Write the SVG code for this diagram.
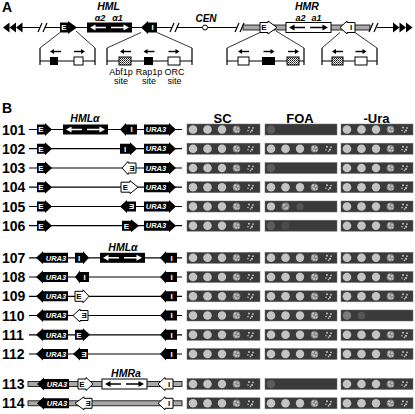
<svg xmlns="http://www.w3.org/2000/svg" width="415" height="414" viewBox="0 0 415 414">
<style>
.lab{font:bold 14px "Liberation Sans",Arial,sans-serif}
.hd{font:bold 13px "Liberation Sans",Arial,sans-serif;text-anchor:middle}
.loc{font:bold italic 10.5px "Liberation Sans",Arial,sans-serif;text-anchor:middle}
.sub{font:bold italic 9px "Liberation Sans",Arial,sans-serif;text-anchor:middle}
.site{font:9px "Liberation Sans",Arial,sans-serif;text-anchor:middle}
.el{font:bold 8px "Liberation Sans",Arial,sans-serif;text-anchor:middle}
.elw{fill:#fff}
.ura{font:bold italic 7.5px "Liberation Sans",Arial,sans-serif;text-anchor:middle;fill:#fff}
.ln{stroke:#000;stroke-width:1.2;fill:none}
.blk{fill:#000}
.wht{fill:#fff;stroke:#000;stroke-width:1}
.band{fill:#a8a8a8;stroke:#000;stroke-width:.8}
.cl{stroke:#000;stroke-width:.8;fill:none}
.strip{fill:#3a3a3a;stroke:#707070;stroke-width:.5}
.s{fill:#c4c4c4}
.sk{fill:#8a8a8a}
</style>
<defs>
<pattern id="hatch" width="2" height="2" patternUnits="userSpaceOnUse"><rect width="2" height="2" fill="#fff"/><rect width="1" height="1" fill="#000"/><rect x="1" y="1" width="1" height="1" fill="#555"/></pattern>
<g id="hml"><rect x="0" y="-5" width="45" height="10" fill="#000"/><path d="M8,0H19M24,0H37" stroke="#fff" stroke-width="1.5"/><path d="M3,0L8.5,-3V3Z M42,0L36.5,-3V3Z" fill="#fff"/></g>
<g id="hmr"><rect x="0" y="-5" width="45" height="10" fill="#fff" stroke="#000" stroke-width="1"/><path d="M8,0H19M24,0H37" stroke="#000" stroke-width="1.5"/><path d="M3,0L8.5,-3V3Z M42,0L36.5,-3V3Z" fill="#000"/></g>
<g id="aL"><path d="M3,0H11" stroke="#000" stroke-width="1.4"/><path d="M0,0L4,-2.6V2.6Z" fill="#000"/></g>
<g id="aR"><path d="M0,0H8" stroke="#000" stroke-width="1.4"/><path d="M11,0L7,-2.6V2.6Z" fill="#000"/></g>
<g id="full"><circle class="s" cx="6" r="4.3"/><circle class="s" cx="20.5" r="4.3"/><circle class="s" cx="35" r="4.2"/><circle class="sk" cx="49.5" r="3.8"/><circle class="s" cx="48" cy="-1.8" r="1.1"/><circle class="s" cx="51" cy="-1" r="1"/><circle class="s" cx="49" cy="1.8" r="1.1"/><circle class="s" cx="51.5" cy="2" r=".9"/><circle class="s" cx="47.6" cy=".4" r=".8"/><circle class="s" cx="62" cy="-2" r="1"/><circle class="s" cx="65" cy="1" r="1.1"/><circle class="s" cx="63.5" cy="2.6" r=".8"/><circle class="s" cx="66" cy="-1.6" r=".9"/><circle class="s" cx="61" cy="1" r=".8"/></g>
<g id="f1"><circle cx="6" r="4.2" fill="#5c5c5c"/></g>
<g id="f2"><circle cx="6" r="4.2" fill="#5c5c5c"/><circle cx="20.5" r="4" fill="#4c4c4c"/></g>
<g id="p105"><circle class="s" cx="6" r="4.1"/><circle class="sk" cx="20.5" r="4"/><circle class="s" cx="19" cy="-1.5" r="1"/><circle class="s" cx="22" cy="1.5" r="1"/><circle class="s" cx="20" cy="2" r=".8"/><circle cx="35" r="3.6" fill="#555"/></g>
<g id="p110"><circle cx="6" r="4.2" fill="#7c7c7c"/><circle cx="20.5" r="3.8" fill="#555"/></g>
</defs>

<text class="lab" x="2" y="12">A</text>
<text class="lab" x="2" y="113">B</text>

<g id="chromosome" transform="translate(0,27.5)">
<path class="blk" d="M3,0L9.5,-5V5Z M9.5,0L16,-5V5Z M16,0L22.5,-5V5Z"/>
<path class="ln" d="M22,0H40 M45,0H172 M177,0H202.5 M207.5,0H237 M377,0H393"/>
<path class="ln" d="M38,4.5L42,-4.5 M43,4.5L47,-4.5 M170,4.5L174,-4.5 M175,4.5L179,-4.5 M235,4.5L239,-4.5 M240,4.5L244,-4.5"/>
<rect class="band" x="243" y="-2.5" width="127" height="5"/>
<path class="ln" d="M369,4.5L373,-4.5 M374,4.5L378,-4.5"/>
<path class="blk" d="M393,-5L399.5,0L393,5Z M399.5,-5L406,0L399.5,5Z M406,-5L412.5,0L406,5Z"/>
<circle cx="205" cy="0" r="2.5" fill="#fff" stroke="#000" stroke-width="1"/>
<text class="sub" x="206" y="-5.5" style="font-size:10px">CEN</text>
<g id="HML-E"><path class="blk" d="M60,-5H68V-6.5L77,0L68,6.5V5H60Z"/><text class="el elw" x="64" y="2.9">E</text></g>
<g id="HML"><use href="#hml" x="87"/><text class="loc" x="108.5" y="-18">HML</text><text class="sub" x="100" y="-7">α2</text><text class="sub" x="117.5" y="-7">α1</text></g>
<g id="HML-I"><path class="blk" d="M141,0L148,-6.5V-5H157V5H148V6.5Z"/><text class="el elw" x="152.5" y="2.9">I</text></g>
<g id="HMR-E"><path class="wht" d="M260,-5H268V-6.5L277,0L268,6.5V5H260Z"/><text class="el" x="264" y="2.9">E</text></g>
<g id="HMR"><use href="#hmr" x="286"/><text class="loc" x="307" y="-18">HMR</text><text class="sub" x="300.5" y="-7">a2</text><text class="sub" x="316.5" y="-7">a1</text></g>
<g id="HMR-I"><path class="wht" d="M340,0L347,-6.5V-5H355V5H347V6.5Z"/><text class="el" x="351" y="2.9">I</text></g>
</g>

<g id="connectors">
<path class="cl" d="M60,32.5L40,48 M76,31L95,48 M141,32.5L107,48 M157,32.5L192,48 M260,32.5L227,48 M276,31L304,48 M340,32.5L322,48 M355,32.5L377,48"/>
<path class="ln" d="M40,48V65 M95,48V65 M40,61H95 M107,48V65 M192,48V65 M107,61H192 M227,48V65 M304,48V65 M227,61H304 M322,48V65 M377,48V65 M322,61H377"/>
</g>

<g id="HML-E-detail">
<rect x="50" y="57" width="8" height="8" fill="#000"/><rect class="wht" x="74" y="57" width="9" height="8"/>
<use href="#aL" x="50" y="51.5"/><use href="#aR" x="74" y="51.5"/>
</g>
<g id="HML-I-detail">
<rect x="119" y="57" width="12" height="8" fill="url(#hatch)" stroke="#000" stroke-width="1"/><rect x="144" y="57" width="9" height="8" fill="#000"/><rect class="wht" x="168" y="57" width="12" height="8"/>
<use href="#aL" x="120" y="51.5"/><use href="#aL" x="143.5" y="51.5"/><use href="#aR" x="168.5" y="51.5"/>
<text class="site" x="121" y="75">Abf1p</text><text class="site" x="121" y="84">site</text>
<text class="site" x="149" y="75">Rap1p</text><text class="site" x="149" y="84">site</text>
<text class="site" x="174.5" y="75">ORC</text><text class="site" x="174.5" y="84">site</text>
</g>
<g id="HMR-E-detail">
<rect class="wht" x="238" y="57" width="11" height="8"/><rect x="262" y="57" width="13" height="8" fill="#000"/><rect x="287" y="57" width="12" height="8" fill="url(#hatch)" stroke="#000" stroke-width="1"/>
<use href="#aL" x="238" y="51.5"/><use href="#aR" x="263.5" y="51.5"/><use href="#aR" x="288" y="51.5"/>
</g>
<g id="HMR-I-detail">
<rect x="332" y="57" width="11" height="8" fill="url(#hatch)" stroke="#000" stroke-width="1"/><rect class="wht" x="355" y="57" width="12" height="8"/>
<use href="#aL" x="332" y="51.5"/><use href="#aR" x="355.5" y="51.5"/>
</g>

<g id="headers">
<text class="hd" x="222.5" y="122.5">SC</text>
<text class="hd" x="300" y="122.5">FOA</text>
<text class="hd" x="376.5" y="122.5">-Ura</text>
</g>

<g id="s101" transform="translate(0,129.5)">
<text class="lab" x="2" y="5">101</text><line class="ln" x1="29" x2="182"/>
<path class="blk" d="M37,-5H45V-6.5L52,0L45,6.5V5H37Z"/><text class="el elw" x="41" y="2.9">E</text>
<use href="#hml" x="63"/><text class="loc" x="85" y="-7.5">HMLα</text>
<path class="blk" d="M120,0L126,-6.5V-5H137V5H126V6.5Z"/><text class="el elw" x="131.5" y="2.9">I</text>
<path class="blk" d="M144,-5H169V-6.5L176,0L169,6.5V5H144Z"/><text class="ura" x="156" y="2.7">URA3</text>
<rect class="strip" x="187" y="-5.5" width="73" height="11"/><rect class="strip" x="265" y="-5.5" width="72" height="11"/><rect class="strip" x="341" y="-5.5" width="72" height="11"/>
<use href="#full" x="187"/><use href="#f1" x="265"/><use href="#full" x="341"/>
</g>
<g id="s102" transform="translate(0,148.7)">
<text class="lab" x="2" y="5">102</text><line class="ln" x1="29" x2="182"/>
<path class="blk" d="M37,-5H45V-6.5L52,0L45,6.5V5H37Z"/><text class="el elw" x="41" y="2.9">E</text>
<path class="blk" d="M120,-5H130V-6.5L137,0L130,6.5V5H120Z"/><text class="el elw" x="125" y="2.9">I</text>
<path class="blk" d="M144,-5H169V-6.5L176,0L169,6.5V5H144Z"/><text class="ura" x="156" y="2.7">URA3</text>
<rect class="strip" x="187" y="-5.5" width="73" height="11"/><rect class="strip" x="265" y="-5.5" width="72" height="11"/><rect class="strip" x="341" y="-5.5" width="72" height="11"/>
<use href="#full" x="187"/><use href="#full" x="265"/><use href="#full" x="341"/>
</g>
<g id="s103" transform="translate(0,168)">
<text class="lab" x="2" y="5">103</text><line class="ln" x1="29" x2="182"/>
<path class="blk" d="M37,-5H45V-6.5L52,0L45,6.5V5H37Z"/><text class="el elw" x="41" y="2.9">E</text>
<path class="wht" d="M122,0L128,-6.5V-5H136V5H128V6.5Z"/><text class="el" transform="translate(132,2.9) scale(-1,1)">E</text>
<path class="blk" d="M144,-5H169V-6.5L176,0L169,6.5V5H144Z"/><text class="ura" x="156" y="2.7">URA3</text>
<rect class="strip" x="187" y="-5.5" width="73" height="11"/><rect class="strip" x="265" y="-5.5" width="72" height="11"/><rect class="strip" x="341" y="-5.5" width="72" height="11"/>
<use href="#full" x="187"/><use href="#f1" x="265"/><use href="#full" x="341"/>
</g>
<g id="s104" transform="translate(0,187.2)">
<text class="lab" x="2" y="5">104</text><line class="ln" x1="29" x2="182"/>
<path class="blk" d="M37,-5H45V-6.5L52,0L45,6.5V5H37Z"/><text class="el elw" x="41" y="2.9">E</text>
<path class="wht" d="M121,-5H130V-6.5L138,0L130,6.5V5H121Z"/><text class="el" x="125.5" y="2.9">E</text>
<path class="blk" d="M144,-5H169V-6.5L176,0L169,6.5V5H144Z"/><text class="ura" x="156" y="2.7">URA3</text>
<rect class="strip" x="187" y="-5.5" width="73" height="11"/><rect class="strip" x="265" y="-5.5" width="72" height="11"/><rect class="strip" x="341" y="-5.5" width="72" height="11"/>
<use href="#full" x="187"/><use href="#full" x="265"/><use href="#full" x="341"/>
</g>
<g id="s105" transform="translate(0,206.5)">
<text class="lab" x="2" y="5">105</text><line class="ln" x1="29" x2="182"/>
<path class="blk" d="M37,-5H45V-6.5L52,0L45,6.5V5H37Z"/><text class="el elw" x="41" y="2.9">E</text>
<path class="blk" d="M120,0L127,-6.5V-5H136V5H127V6.5Z"/><text class="el elw" transform="translate(131.5,2.9) scale(-1,1)">E</text>
<path class="blk" d="M144,-5H169V-6.5L176,0L169,6.5V5H144Z"/><text class="ura" x="156" y="2.7">URA3</text>
<rect class="strip" x="187" y="-5.5" width="73" height="11"/><rect class="strip" x="265" y="-5.5" width="72" height="11"/><rect class="strip" x="341" y="-5.5" width="72" height="11"/>
<use href="#full" x="187"/><use href="#p105" x="265"/><use href="#full" x="341"/>
</g>
<g id="s106" transform="translate(0,225.7)">
<text class="lab" x="2" y="5">106</text><line class="ln" x1="29" x2="182"/>
<path class="blk" d="M37,-5H45V-6.5L52,0L45,6.5V5H37Z"/><text class="el elw" x="41" y="2.9">E</text>
<path class="blk" d="M122,-5H131V-6.5L139,0L131,6.5V5H122Z"/><text class="el elw" x="126.5" y="2.9">E</text>
<path class="blk" d="M144,-5H169V-6.5L176,0L169,6.5V5H144Z"/><text class="ura" x="156" y="2.7">URA3</text>
<rect class="strip" x="187" y="-5.5" width="73" height="11"/><rect class="strip" x="265" y="-5.5" width="72" height="11"/><rect class="strip" x="341" y="-5.5" width="72" height="11"/>
<use href="#full" x="187"/><use href="#f2" x="265"/><use href="#full" x="341"/>
</g>

<g id="s107" transform="translate(0,257.8)">
<text class="lab" x="2" y="5">107</text><line class="ln" x1="29" x2="182"/>
<path class="blk" d="M36,0L43,-6.5V-5H68V5H43V6.5Z"/><text class="ura" x="56" y="2.7">URA3</text>
<path class="blk" d="M75,-5H83V-6.5L89,0L83,6.5V5H75Z"/><text class="el elw" x="79" y="2.9">I</text>
<use href="#hml" x="100"/><text class="loc" x="123" y="-7">HMLα</text>
<path class="blk" d="M160,0L166,-6.5V-5H177V5H166V6.5Z"/><text class="el elw" x="171.5" y="2.9">I</text>
<rect class="strip" x="187" y="-5.5" width="73" height="11"/><rect class="strip" x="265" y="-5.5" width="72" height="11"/><rect class="strip" x="341" y="-5.5" width="72" height="11"/>
<use href="#full" x="187"/><use href="#full" x="265"/><use href="#full" x="341"/>
</g>
<g id="s108" transform="translate(0,277)">
<text class="lab" x="2" y="5">108</text><line class="ln" x1="29" x2="182"/>
<path class="blk" d="M36,0L43,-6.5V-5H68V5H43V6.5Z"/><text class="ura" x="56" y="2.7">URA3</text>
<path class="blk" d="M75,0L80,-6.5V-5H89V5H80V6.5Z"/><text class="el elw" x="84.5" y="2.9">I</text>
<path class="blk" d="M160,0L166,-6.5V-5H177V5H166V6.5Z"/><text class="el elw" x="171.5" y="2.9">I</text>
<rect class="strip" x="187" y="-5.5" width="73" height="11"/><rect class="strip" x="265" y="-5.5" width="72" height="11"/><rect class="strip" x="341" y="-5.5" width="72" height="11"/>
<use href="#full" x="187"/><use href="#full" x="265"/><use href="#full" x="341"/>
</g>
<g id="s109" transform="translate(0,296.3)">
<text class="lab" x="2" y="5">109</text><line class="ln" x1="29" x2="182"/>
<path class="blk" d="M36,0L43,-6.5V-5H68V5H43V6.5Z"/><text class="ura" x="56" y="2.7">URA3</text>
<path class="wht" d="M75,-5H83V-6.5L89,0L83,6.5V5H75Z"/><text class="el" x="79" y="2.9">E</text>
<path class="blk" d="M160,0L166,-6.5V-5H177V5H166V6.5Z"/><text class="el elw" x="171.5" y="2.9">I</text>
<rect class="strip" x="187" y="-5.5" width="73" height="11"/><rect class="strip" x="265" y="-5.5" width="72" height="11"/><rect class="strip" x="341" y="-5.5" width="72" height="11"/>
<use href="#full" x="187"/><use href="#full" x="265"/><use href="#full" x="341"/>
</g>
<g id="s110" transform="translate(0,315.5)">
<text class="lab" x="2" y="5">110</text><line class="ln" x1="29" x2="182"/>
<path class="blk" d="M36,0L43,-6.5V-5H68V5H43V6.5Z"/><text class="ura" x="56" y="2.7">URA3</text>
<path class="wht" d="M73,0L80,-6.5V-5H88V5H80V6.5Z"/><text class="el" transform="translate(84,2.9) scale(-1,1)">E</text>
<path class="blk" d="M160,0L166,-6.5V-5H177V5H166V6.5Z"/><text class="el elw" x="171.5" y="2.9">I</text>
<rect class="strip" x="187" y="-5.5" width="73" height="11"/><rect class="strip" x="265" y="-5.5" width="72" height="11"/><rect class="strip" x="341" y="-5.5" width="72" height="11"/>
<use href="#full" x="187"/><use href="#full" x="265"/><use href="#p110" x="341"/>
</g>
<g id="s111" transform="translate(0,334.8)">
<text class="lab" x="2" y="5">111</text><line class="ln" x1="29" x2="182"/>
<path class="blk" d="M36,0L43,-6.5V-5H68V5H43V6.5Z"/><text class="ura" x="56" y="2.7">URA3</text>
<path class="blk" d="M75,-5H83V-6.5L90,0L83,6.5V5H75Z"/><text class="el elw" x="79" y="2.9">E</text>
<path class="blk" d="M160,0L166,-6.5V-5H177V5H166V6.5Z"/><text class="el elw" x="171.5" y="2.9">I</text>
<rect class="strip" x="187" y="-5.5" width="73" height="11"/><rect class="strip" x="265" y="-5.5" width="72" height="11"/><rect class="strip" x="341" y="-5.5" width="72" height="11"/>
<use href="#full" x="187"/><use href="#full" x="265"/><use href="#full" x="341"/>
</g>
<g id="s112" transform="translate(0,354)">
<text class="lab" x="2" y="5">112</text><line class="ln" x1="29" x2="182"/>
<path class="blk" d="M36,0L43,-6.5V-5H68V5H43V6.5Z"/><text class="ura" x="56" y="2.7">URA3</text>
<path class="blk" d="M73,0L80,-6.5V-5H88V5H80V6.5Z"/><text class="el elw" transform="translate(84,2.9) scale(-1,1)">E</text>
<path class="blk" d="M160,0L166,-6.5V-5H177V5H166V6.5Z"/><text class="el elw" x="171.5" y="2.9">I</text>
<rect class="strip" x="187" y="-5.5" width="73" height="11"/><rect class="strip" x="265" y="-5.5" width="72" height="11"/><rect class="strip" x="341" y="-5.5" width="72" height="11"/>
<use href="#full" x="187"/><use href="#full" x="265"/><use href="#full" x="341"/>
</g>

<g id="s113" transform="translate(0,384)">
<text class="lab" x="2" y="5">113</text><rect class="band" x="28" y="-2.5" width="154" height="5"/>
<path class="blk" d="M37,0L44,-6.5V-5H69V5H44V6.5Z"/><text class="ura" x="57" y="2.7">URA3</text>
<path class="wht" d="M78,-5H86V-6.5L93,0L86,6.5V5H78Z"/><text class="el" x="82" y="2.9">E</text>
<use href="#hmr" x="102"/><text class="loc" x="126" y="-7">HMRa</text>
<path class="wht" d="M158,0L165,-6.5V-5H173V5H165V6.5Z"/><text class="el" x="169" y="2.9">I</text>
<rect class="strip" x="187" y="-5.5" width="73" height="11"/><rect class="strip" x="265" y="-5.5" width="72" height="11"/><rect class="strip" x="341" y="-5.5" width="72" height="11"/>
<use href="#full" x="187"/><use href="#f1" x="265"/><use href="#full" x="341"/>
</g>
<g id="s114" transform="translate(0,403.3)">
<text class="lab" x="2" y="5">114</text><rect class="band" x="28" y="-2.5" width="154" height="5"/>
<path class="blk" d="M37,0L44,-6.5V-5H69V5H44V6.5Z"/><text class="ura" x="57" y="2.7">URA3</text>
<path class="wht" d="M75,0L84,-6.5V-5H92V5H84V6.5Z"/><text class="el" transform="translate(88,2.9) scale(-1,1)">E</text>
<path class="wht" d="M158,0L165,-6.5V-5H173V5H165V6.5Z"/><text class="el" x="169" y="2.9">I</text>
<rect class="strip" x="187" y="-5.5" width="73" height="11"/><rect class="strip" x="265" y="-5.5" width="72" height="11"/><rect class="strip" x="341" y="-5.5" width="72" height="11"/>
<use href="#full" x="187"/><use href="#full" x="265"/><use href="#full" x="341"/>
</g>
</svg>
